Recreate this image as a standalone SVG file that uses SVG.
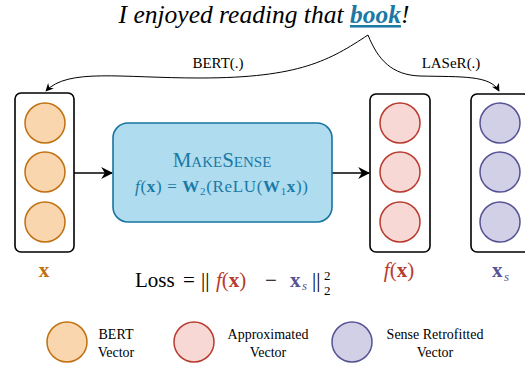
<svg xmlns="http://www.w3.org/2000/svg" width="525" height="365" viewBox="0 0 525 365">
<style>
.serif{font-family:"Liberation Serif","DejaVu Serif",serif;}
.box{fill:#fff;stroke:#000;stroke-width:1.6;}
.c1{fill:#f9d6ad;stroke:#c0700f;stroke-width:1.5;}
.c2{fill:#f8d8d5;stroke:#b83b2f;stroke-width:1.5;}
.c3{fill:#d2d0e6;stroke:#565394;stroke-width:1.5;}
.conn{fill:none;stroke:#000;}
.lg{font-size:14px;text-anchor:middle;}
</style>
<defs>
<marker id="ah" viewBox="0 0 10 10" refX="9" refY="5" markerWidth="8" markerHeight="8" markerUnits="userSpaceOnUse" orient="auto">
<path d="M0,0 L10,5 L0,10 L3,5 Z" fill="#000"/>
</marker>
<marker id="ah2" viewBox="0 0 10 10" refX="9" refY="5" markerWidth="12" markerHeight="12" markerUnits="userSpaceOnUse" orient="auto">
<path d="M0,0 L10,5 L0,10 L3,5 Z" fill="#000"/>
</marker>
</defs>

<g id="title">
<text class="serif" x="264" y="23" font-size="25.5" font-style="italic" text-anchor="middle">I enjoyed reading that <tspan fill="#1b79a4" font-weight="bold" text-decoration="underline">book</tspan>!</text>
</g>

<g id="connectors">
<path class="conn" stroke-width="1" d="M368,35 C330,60 300,78 200,78 C120,78 68,68 46,91" marker-end="url(#ah)"/>
<path class="conn" stroke-width="1" d="M368,35 C378,60 392,75 420,76 C462,77 490,75 499,91" marker-end="url(#ah)"/>
<path class="conn" stroke-width="1.6" d="M74,173 L112,173" marker-end="url(#ah2)"/>
<path class="conn" stroke-width="1.6" d="M332,173 L369,173" marker-end="url(#ah2)"/>
<text class="serif" x="218" y="68" font-size="15" text-anchor="middle">BERT(.)</text>
<text class="serif" x="451" y="68" font-size="15" text-anchor="middle">LASeR(.)</text>
</g>

<g id="x">
<rect class="box" x="15" y="93" width="59" height="159" rx="6"/>
<circle class="c1" cx="45" cy="123" r="20"/>
<circle class="c1" cx="45" cy="172" r="20"/>
<circle class="c1" cx="45" cy="222" r="20"/>
<text class="serif" x="44" y="277" font-size="21" font-weight="bold" fill="#c0700f" text-anchor="middle">x</text>
</g>

<g id="makesense">
<rect x="113" y="123" width="219" height="99" rx="15" fill="#afdcef" stroke="#1a74a0" stroke-width="1.6"/>
<text class="serif" x="222" y="167" font-size="21" fill="#1b79a4" text-anchor="middle">M<tspan font-size="15">AKE</tspan>S<tspan font-size="15">ENSE</tspan></text>
<text class="serif" x="135" y="192" font-size="17" fill="#1b79a4" textLength="173" lengthAdjust="spacing" xml:space="preserve"><tspan font-style="italic">f</tspan>(<tspan font-weight="bold">x</tspan>) = <tspan font-weight="bold">W</tspan><tspan font-size="11" dy="3">2</tspan><tspan dy="-3">(ReLU(</tspan><tspan font-weight="bold">W</tspan><tspan font-size="11" dy="3">1</tspan><tspan dy="-3" font-weight="bold">x</tspan>))</text>
</g>

<g id="fx">
<rect class="box" x="370" y="94" width="60" height="158" rx="6"/>
<circle class="c2" cx="400" cy="123" r="20"/>
<circle class="c2" cx="400" cy="172" r="20"/>
<circle class="c2" cx="400" cy="222" r="20"/>
<text class="serif" x="399" y="277" font-size="21" fill="#b83b2f" text-anchor="middle"><tspan font-style="italic">f</tspan>(<tspan font-weight="bold">x</tspan>)</text>
</g>

<g id="xs">
<rect class="box" x="471" y="94" width="59" height="158" rx="6"/>
<circle class="c3" cx="500" cy="123" r="20"/>
<circle class="c3" cx="500" cy="172" r="20"/>
<circle class="c3" cx="500" cy="222" r="20"/>
<text class="serif" x="492" y="277" font-size="21" font-weight="bold" fill="#565394">x</text>
<text class="serif" x="504" y="281" font-size="13" font-style="italic" fill="#565394">s</text>
</g>

<g id="loss" class="serif">
<text x="135" y="287" font-size="21">Loss</text>
<text x="183" y="287" font-size="21">=</text>
<text x="201" y="287" font-size="21">||</text>
<text x="216" y="287" font-size="21" fill="#b83b2f"><tspan font-style="italic">f</tspan>(<tspan font-weight="bold">x</tspan>)</text>
<text x="265" y="287" font-size="21">−</text>
<text x="290" y="287" font-size="21" font-weight="bold" fill="#565394">x</text>
<text x="302" y="290" font-size="13" font-style="italic" fill="#565394">s</text>
<text x="312" y="287" font-size="21">||</text>
<text x="324" y="280" font-size="13">2</text>
<text x="324" y="295" font-size="13">2</text>
</g>

<g id="legend" class="serif">
<circle class="c1" cx="67" cy="342" r="20"/>
<text class="lg" x="116" y="339">BERT</text>
<text class="lg" x="116" y="357">Vector</text>
<circle class="c2" cx="194" cy="342" r="20"/>
<text class="lg" x="268" y="339">Approximated</text>
<text class="lg" x="268" y="357">Vector</text>
<circle class="c3" cx="352" cy="342" r="20"/>
<text class="lg" x="435" y="339">Sense Retrofitted</text>
<text class="lg" x="435" y="357">Vector</text>
</g>
</svg>
